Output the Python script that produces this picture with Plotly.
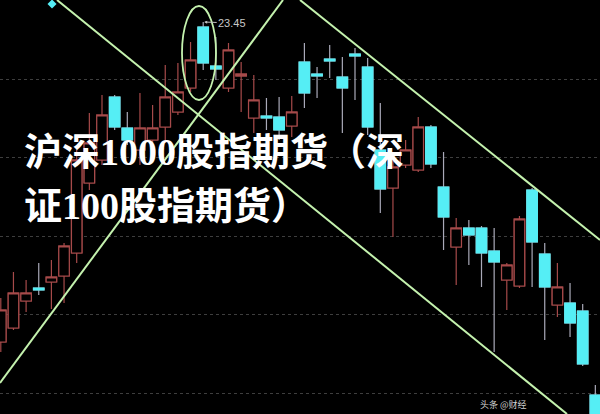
import plotly.graph_objects as go

# ---- data ----
idx = list(range(48))
opens = [20.25, 20.39, 20.66, 20.79, 20.85, 20.91, 21.14, 21.84, 22.07, 22.70,
         22.39, 22.17, 22.27, 22.40, 22.55, 22.79, 23.40, 23.01, 22.79, 22.91,
         22.49, 22.51, 22.50, 22.41, 23.05, 22.93, 23.08, 22.90, 23.13, 23.00,
         22.17, 21.79, 22.02, 21.97, 22.40, 21.80, 21.20, 21.39, 21.39, 21.16,
         20.87, 20.81, 21.77, 21.13, 20.62, 20.64, 20.56, 19.72]
highs = [20.69, 20.95, 20.87, 21.04, 21.07, 21.24, 22.17, 22.54, 22.72, 22.72,
         22.55, 22.74, 22.62, 23.02, 23.04, 23.25, 23.45, 23.30, 23.24, 23.05,
         22.92, 22.69, 22.70, 22.71, 23.24, 23.00, 23.22, 23.10, 23.19, 23.09,
         22.64, 22.14, 22.27, 22.50, 22.42, 22.15, 21.49, 21.47, 21.41, 21.39,
         21.04, 21.51, 21.79, 21.24, 21.04, 20.84, 20.63, 19.82]
lows = [20.15, 20.37, 20.55, 20.72, 20.58, 20.64, 21.04, 21.77, 22.02, 22.37,
        22.22, 22.02, 22.10, 22.24, 22.52, 22.75, 22.97, 22.87, 22.75, 22.55,
        22.34, 22.37, 22.27, 22.30, 22.59, 22.69, 22.89, 22.34, 22.67, 22.32,
        21.54, 21.30, 21.99, 21.95, 21.99, 21.17, 20.82, 21.02, 20.80, 20.15,
        20.57, 20.79, 20.80, 20.27, 20.50, 20.30, 20.01, 19.40]
closes = [20.57, 20.74, 20.74, 20.77, 20.90, 21.21, 22.07, 22.24, 22.52, 22.40,
          22.27, 22.39, 22.39, 22.70, 22.75, 23.07, 23.04, 22.98, 23.17, 22.93,
          22.67, 22.49, 22.37, 22.55, 22.74, 22.91, 23.06, 22.79, 23.11, 22.40,
          21.78, 22.00, 22.17, 22.40, 22.03, 21.50, 21.39, 21.32, 21.14, 21.05,
          21.02, 21.48, 21.25, 20.80, 20.80, 20.44, 20.03, 19.42]
grid_levels = [22.88, 22.10, 21.31, 20.53, 19.74]
peak_index = 16
peak_label = "23.45"
marker_x = [4.05]
marker_y = [23.63]
title_line1 = "沪深1000股指期货（深"
title_line2 = "证100股指期货）"
watermark = "头条 @财经"

RED = "#a64a4a"
CYAN = "#55eef5"
WICK = "#a9a9b8"
GREEN = "#c4f2ae"

body_high = [max(o, c) for o, c in zip(opens, closes)]
body_low = [min(o, c) for o, c in zip(opens, closes)]

fig = go.Figure()
# full candles (wicks)
fig.add_trace(go.Candlestick(
    x=idx, open=opens, high=highs, low=lows, close=closes,
    increasing=dict(line=dict(color=RED, width=1.2), fillcolor="black"),
    decreasing=dict(line=dict(color=WICK, width=1.2), fillcolor=CYAN),
    whiskerwidth=0, showlegend=False, hoverinfo="skip"))
# bodies on top
fig.add_trace(go.Candlestick(
    x=idx, open=opens, high=body_high, low=body_low, close=closes,
    increasing=dict(line=dict(color=RED, width=1.2), fillcolor="black"),
    decreasing=dict(line=dict(color=CYAN, width=1.2), fillcolor=CYAN),
    whiskerwidth=0, showlegend=False, hoverinfo="skip"))
fig.add_trace(go.Scatter(x=marker_x, y=marker_y, mode="markers",
                         marker=dict(symbol="diamond", size=7, color=CYAN),
                         showlegend=False, hoverinfo="skip"))

W, H = 600, 414


def px(x):
    return x / W


def py(y):
    return 1 - y / H


shapes = []
for (x0, y0, x1, y1) in [(57, 0, 567, 414), (0, 383, 283, 0), (300, 0, 600, 240)]:
    shapes.append(dict(type="line", xref="paper", yref="paper",
                       x0=px(x0), y0=py(y0), x1=px(x1), y1=py(y1),
                       line=dict(color=GREEN, width=2)))
shapes.append(dict(type="circle", xref="paper", yref="paper",
                   x0=px(182), x1=px(216), y0=py(100), y1=py(6),
                   line=dict(color=GREEN, width=1.8)))

title_font = dict(family="Liberation Serif, Noto Sans CJK SC", size=38,
                  color="white", weight="bold")
annotations = [
    dict(xref="paper", yref="paper", x=px(22), y=py(152), xanchor="left",
         yanchor="middle", text=title_line1, showarrow=False, font=title_font),
    dict(xref="paper", yref="paper", x=px(22), y=py(206), xanchor="left",
         yanchor="middle", text=title_line2, showarrow=False, font=title_font),
    dict(x=peak_index, y=highs[peak_index], xref="x", yref="y",
         text=peak_label, showarrow=True, ax=29, ay=1,
         arrowhead=2, arrowsize=0.6, arrowwidth=1, arrowcolor="#c0c0c0",
         standoff=1, font=dict(family="Liberation Sans", size=11, color="#c8c8c8")),
    dict(xref="paper", yref="paper", x=px(478), y=py(413), xanchor="left",
         yanchor="bottom", text=watermark, showarrow=False,
         font=dict(family="Noto Sans CJK SC", size=9, color="#d0d0d0")),
]

fig.update_layout(
    width=W, height=H, margin=dict(l=0, r=0, t=0, b=0),
    paper_bgcolor="black", plot_bgcolor="black",
    boxgap=0.17, boxgroupgap=0, boxmode="overlay",
    shapes=shapes, annotations=annotations,
    xaxis=dict(range=[-0.063, 47.368], visible=False, rangeslider=dict(visible=False),
               fixedrange=True),
    yaxis=dict(range=[19.53, 23.67], tickvals=grid_levels, showticklabels=False,
               showgrid=True, gridcolor="#3e3e3e", griddash="dot", gridwidth=1,
               zeroline=False, showline=False, fixedrange=True),
)

fig.write_html("out.html", config={"displayModeBar": False},
               post_script="document.body.style.margin='0';"
                           "document.body.style.background='black';"
                           "document.body.style.overflow='hidden';")
